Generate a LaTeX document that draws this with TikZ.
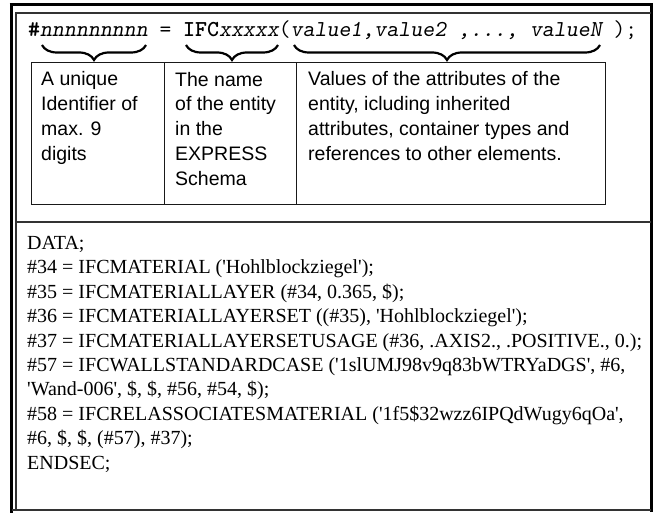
\documentclass[tikz,border=0pt]{standalone}
\usepackage{fontspec}
\setmainfont{Liberation Serif}
\setsansfont{Liberation Sans}
\usetikzlibrary{decorations.pathreplacing}
\newcommand{\codebf}[1]{{\fontseries{b}\selectfont #1}}
\newcommand{\codesl}[1]{{\slshape #1}}
\begin{document}
\begin{tikzpicture}[x=1pt,y=-1pt,
  frameouter/.style={line width=3pt,black},
  frameinner/.style={line width=1.6pt,black!80},
  cellbox/.style={draw=black!90,line width=1.4pt,rectangle,inner sep=0pt,anchor=north west},
  brc/.style={decorate,decoration={brace,mirror,amplitude=15pt},line width=2.2pt},
  coltext/.style={anchor=base west,inner sep=0pt,align=left,font=\sffamily\fontsize{19.5}{25}\selectfont},
  datatext/.style={anchor=base west,inner sep=0pt,align=left,font=\rmfamily\fontsize{20}{24.4}\selectfont},
  sigtext/.style={anchor=base west,inner sep=0pt,font=\ttfamily\fontsize{22.8}{24}\selectfont}
]
\fill[white] (0,0) rectangle (656,513);
\useasboundingbox (0,0) rectangle (656,513);

% outer frame
\draw[frameouter] (11,3.5) -- (11,513);
\draw[frameouter] (9.5,5) -- (652.5,5);
\draw[frameouter] (651,3.5) -- (651,511.5);
% inner frame and the rule between the two parts
\draw[frameinner] (16,13) -- (651,13);
\draw[frameinner] (16,12.2) -- (16,510);
\draw[frameinner] (12,510) -- (651,510);
\draw[frameinner] (16,222) -- (651,222);

% the general form of an instance line
\node[sigtext] (sig) at (28,37)
  {\codebf{\#}\codesl{nnnnnnnnn} = \codebf{IFC}\codesl{xxxxx}(\codesl{value1,value2 ,..., valueN} );};

% explanation cells
\node[cellbox,minimum width=133pt,minimum height=142pt] (c1) at (31,62) {};
\node[cellbox,minimum width=132pt,minimum height=142pt] (c2) at (164,62) {};
\node[cellbox,minimum width=309pt,minimum height=142pt] (c3) at (296,62) {};

% multi-line nodes sit on the baseline of their last line
\node[coltext] (t1) at (41,161) {A unique\\Identifier of\\max. 9\\digits};
\node[coltext] (t2) at (175,186) {The name\\of the entity\\in the\\EXPRESS\\Schema};
\node[coltext] (t3) at (308,161) {Values of the attributes of the\\entity, icluding inherited\\attributes, container types and\\references to other elements.};

% braces from the parts of the line down to the cells
\coordinate (b1l) at (42,45);  \coordinate (b1r) at (146,45);
\coordinate (b2l) at (186,45); \coordinate (b2r) at (278,45);
\coordinate (b3l) at (294,45); \coordinate (b3r) at (600,45);
\draw[brc] (b1l) -- (b1r);
\draw[brc] (b2l) -- (b2r);
\draw[brc] (b3l) -- (b3r);

% example data section
\node[datatext] (data) at (27,469) {DATA;\\
\#34 = IFCMATERIAL (\textquotesingle Hohlblockziegel\textquotesingle);\\
\#35 = IFCMATERIALLAYER (\#34, 0.365, \$);\\
\#36 = IFCMATERIALLAYERSET ((\#35), \textquotesingle Hohlblockziegel\textquotesingle);\\
\#37 = IFCMATERIALLAYERSETUSAGE (\#36, .AXIS2., .POSITIVE., 0.);\\
\#57 = IFCWALLSTANDARDCASE (\textquotesingle 1slUMJ98v9q83bWTRYaDGS\textquotesingle, \#6,\\
\textquotesingle Wand-006\textquotesingle, \$, \$, \#56, \#54, \$);\\
\#58 = IFCRELASSOCIATESMATERIAL (\textquotesingle 1f5\$32wzz6IPQdWugy6qOa\textquotesingle,\\
\#6, \$, \$, (\#57), \#37);\\
ENDSEC;};
\end{tikzpicture}
\end{document}
